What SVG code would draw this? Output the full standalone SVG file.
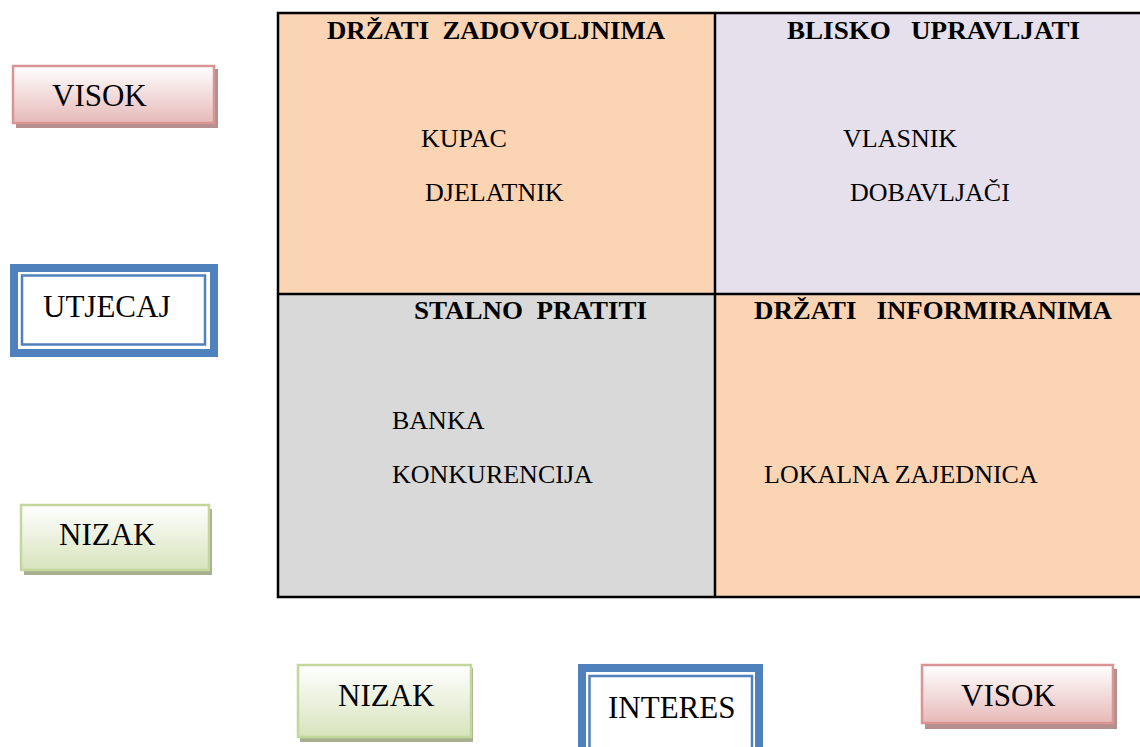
<svg xmlns="http://www.w3.org/2000/svg" width="1140" height="747" viewBox="0 0 1140 747">
<defs>
<linearGradient id="gPink" x1="0" y1="0" x2="0" y2="1">
<stop offset="0" stop-color="#FFFFFF"/><stop offset="1" stop-color="#E6B9B8"/>
</linearGradient>
<linearGradient id="gGreen" x1="0" y1="0" x2="0" y2="1">
<stop offset="0" stop-color="#FFFFFF"/><stop offset="1" stop-color="#D7E3BC"/>
</linearGradient>
</defs>
<style>
.lbl{font-family:"Liberation Serif","Times New Roman",serif;font-size:31px;fill:#000}
.txt{font-family:"Liberation Serif","Times New Roman",serif;font-size:26px;fill:#000}
.hdr{font-family:"Liberation Serif","Times New Roman",serif;font-size:26px;font-weight:bold;fill:#000;white-space:pre}
.pink{fill:url(#gPink);stroke:#D99594;stroke-width:2.5}
.pinkSh{fill:#B58E8E}
.green{fill:url(#gGreen);stroke:#C3D69B;stroke-width:2.5}
.greenSh{fill:#A7AF90}
.blueOut{fill:#FFFFFF;stroke:#4F81BD;stroke-width:8}
.blueIn{fill:none;stroke:#4F81BD;stroke-width:2.5}
.grid{stroke:#000;stroke-width:2.5;fill:none}
</style>
<rect width="1140" height="747" fill="#FFFFFF"/>

<g id="matrix">
<rect x="278" y="13" width="437" height="281" fill="#FBD4B4"/>
<rect x="715" y="13" width="430" height="281" fill="#E5E0EC"/>
<rect x="278" y="294" width="437" height="303" fill="#D9D9D9"/>
<rect x="715" y="294" width="430" height="303" fill="#FBD4B4"/>
<path class="grid" d="M1145 13 H278 V597 H1145 M715 13 V597 M278 294 H1145"/>
</g>

<g id="q-top-left">
<text class="hdr" x="327" y="39" textLength="338" lengthAdjust="spacingAndGlyphs">DRŽATI  ZADOVOLJNIMA</text>
<text class="txt" x="421" y="147">KUPAC</text>
<text class="txt" x="425" y="201">DJELATNIK</text>
</g>
<g id="q-top-right">
<text class="hdr" x="787" y="39" textLength="293" lengthAdjust="spacingAndGlyphs">BLISKO   UPRAVLJATI</text>
<text class="txt" x="843" y="147">VLASNIK</text>
<text class="txt" x="850" y="201">DOBAVLJAČI</text>
</g>
<g id="q-bottom-left">
<text class="hdr" x="414" y="319" textLength="233" lengthAdjust="spacingAndGlyphs">STALNO  PRATITI</text>
<text class="txt" x="392" y="429">BANKA</text>
<text class="txt" x="392" y="483">KONKURENCIJA</text>
</g>
<g id="q-bottom-right">
<text class="hdr" x="754" y="319" textLength="358" lengthAdjust="spacingAndGlyphs">DRŽATI   INFORMIRANIMA</text>
<text class="txt" x="764" y="483">LOKALNA ZAJEDNICA</text>
</g>

<g id="visok-left">
<rect class="pinkSh" x="16" y="69" width="202" height="59"/>
<rect class="pink" x="13" y="66" width="201" height="57"/>
<text class="lbl" x="52" y="106">VISOK</text>
</g>
<g id="utjecaj">
<rect class="blueOut" x="14" y="268" width="200" height="85"/>
<rect class="blueIn" x="22" y="275.5" width="183" height="69"/>
<text class="lbl" x="43" y="317">UTJECAJ</text>
</g>
<g id="nizak-left">
<rect class="greenSh" x="24" y="509" width="188" height="66"/>
<rect class="green" x="21" y="505" width="188" height="65"/>
<text class="lbl" x="59" y="545">NIZAK</text>
</g>

<g id="nizak-bottom">
<rect class="greenSh" x="300" y="668" width="173" height="74"/>
<rect class="green" x="298" y="665" width="173" height="72"/>
<text class="lbl" x="338" y="706">NIZAK</text>
</g>
<g id="interes">
<rect class="blueOut" x="582" y="668" width="177" height="95"/>
<rect class="blueIn" x="589.5" y="676" width="162.5" height="80"/>
<text class="lbl" x="608" y="718">INTERES</text>
</g>
<g id="visok-bottom">
<rect class="pinkSh" x="925" y="669" width="192" height="60"/>
<rect class="pink" x="922" y="665" width="191" height="58"/>
<text class="lbl" x="961" y="706">VISOK</text>
</g>
</svg>
